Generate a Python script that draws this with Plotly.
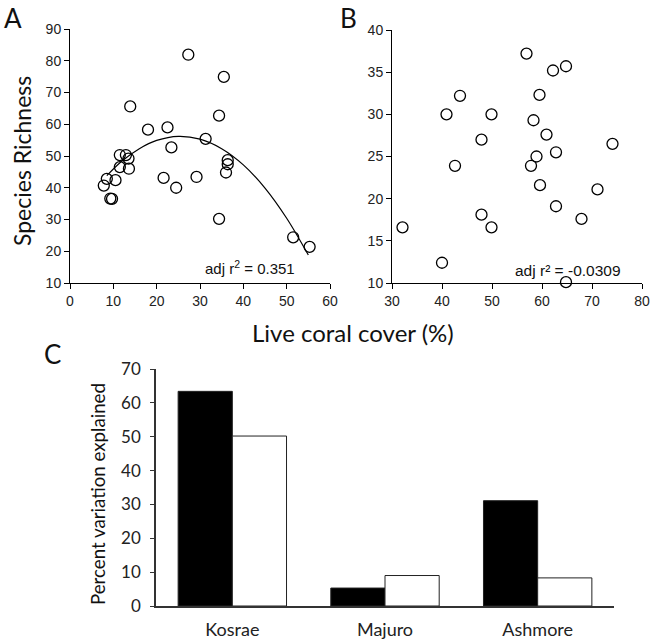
import plotly.graph_objects as go

# Panel A data: live coral cover (%) vs species richness
a_cover = [27.3, 35.5, 13.9, 34.4, 18.0, 22.5, 31.3, 23.4, 11.5, 12.9, 13.5, 11.5, 13.6,
           21.6, 29.2, 24.5, 36.4, 36.4, 36.0, 8.5, 10.5, 7.8, 9.3, 9.7, 34.4, 51.5, 55.3]
a_rich = [81.9, 74.9, 65.6, 62.7, 58.3, 59.0, 55.4, 52.7, 50.3, 50.3, 49.2, 46.5, 46.0,
          43.1, 43.4, 40.0, 48.7, 47.4, 44.8, 42.8, 42.4, 40.7, 36.6, 36.5, 30.2, 24.4, 21.4]
# Quadratic fit curve as drawn
fit_x = [8.5, 12, 16, 20, 25, 30, 35, 40, 45, 50, 55]
fit_y = [43.8, 48.4, 52.3, 54.9, 56.2, 55.3, 52.3, 47.2, 39.9, 30.4, 18.8]

# Panel B data
b_cover = [56.9, 62.2, 64.8, 43.6, 59.5, 40.9, 49.9, 58.3, 60.9, 47.9, 74.1, 62.8, 58.9,
           42.6, 57.8, 59.6, 71.1, 62.8, 47.9, 67.9, 32.1, 49.9, 40.0, 64.8]
b_rich = [37.2, 35.2, 35.7, 32.2, 32.3, 30.0, 30.0, 29.3, 27.6, 27.0, 26.5, 25.5, 25.0,
          23.9, 23.9, 21.6, 21.1, 19.1, 18.1, 17.6, 16.6, 16.6, 12.4, 10.1]

# Panel C data
sites = ["Kosrae", "Majuro", "Ashmore"]
black_vals = [63.4, 5.3, 31.1]
white_vals = [50.2, 9.0, 8.3]

W, H = 650, 644
def fx(px):
    return px / W
def fy(py):
    return 1 - py / H

fig = go.Figure()
marker = dict(symbol="circle-open", size=11, color="black", line=dict(width=1.3, color="black"))
fig.add_trace(go.Scatter(x=a_cover, y=a_rich, mode="markers", marker=marker,
                         xaxis="x", yaxis="y", cliponaxis=False, showlegend=False))
fig.add_trace(go.Scatter(x=fit_x, y=fit_y, mode="lines", line=dict(color="black", width=1.2, shape="spline"),
                         xaxis="x", yaxis="y", showlegend=False))
fig.add_trace(go.Scatter(x=b_cover, y=b_rich, mode="markers", marker=marker,
                         xaxis="x2", yaxis="y2", cliponaxis=False, showlegend=False))
fig.add_trace(go.Bar(x=sites, y=black_vals, marker=dict(color="black", line=dict(color="#222", width=1)),
                     xaxis="x3", yaxis="y3", showlegend=False))
fig.add_trace(go.Bar(x=sites, y=white_vals, marker=dict(color="white", line=dict(color="#222", width=1)),
                     xaxis="x3", yaxis="y3", showlegend=False))

tickfont = dict(family="Liberation Sans", size=14, color="#222")
cfont = dict(family="Lato", size=17, color="#222")
common = dict(showgrid=False, zeroline=False, showline=True, linecolor="black", linewidth=1,
              ticks="outside", ticklen=5, tickcolor="black", tickfont=tickfont)

fig.update_layout(
    width=W, height=H, margin=dict(l=0, r=0, t=0, b=0, autoexpand=False),
    plot_bgcolor="white", paper_bgcolor="white",
    barmode="group", bargap=0.29, bargroupgap=0,
    xaxis=dict(domain=[fx(70), fx(330)], range=[0, 60], dtick=10, anchor="y", **common),
    yaxis=dict(domain=[fy(283), fy(29)], range=[10, 90], dtick=10, anchor="x", **common),
    xaxis2=dict(domain=[fx(392), fx(642)], range=[30, 80], dtick=10, anchor="y2", **common),
    yaxis2=dict(domain=[fy(283), fy(30)], range=[10, 40], dtick=5, anchor="x2", **common),
    xaxis3=dict(domain=[fx(156), fx(614)], range=[-0.5, 2.5], anchor="y3", showgrid=False,
                zeroline=False, showline=True, linecolor="#333", linewidth=1.5, ticks="",
                ticklabelstandoff=7,
                tickfont=dict(family="Lato", size=18, color="#222")),
    yaxis3=dict(domain=[fy(606), fy(369)], range=[0, 70], dtick=10, anchor="x3", showgrid=False,
                zeroline=False, showline=True, linecolor="#333", linewidth=1.5, ticks="outside",
                ticklen=4, tickcolor="#333", ticklabelstandoff=6, tickfont=cfont),
)

ann = []
def add(text, x, y, size, family="Lato", angle=0, xanchor="center", yanchor="middle"):
    ann.append(dict(text=text, x=fx(x), y=fy(y), xref="paper", yref="paper", showarrow=False,
                    xanchor=xanchor, yanchor=yanchor, textangle=angle,
                    font=dict(family=family, size=size, color="#111")))

add("A", 13, 0, 26, yanchor="top")
add("B", 348, 0, 26, yanchor="top")
add("C", 52, 354, 26)
add("Species Richness", 22, 161, 23, angle=-90)
add("Live coral cover (%)", 353, 333, 24)
add("Percent variation explained", 98, 494, 18.7, angle=-90)
add("adj r<sup>2</sup> = 0.351", 250, 267, 15, family="Liberation Sans")
add("adj r² = -0.0309", 568, 270, 15.5, family="Liberation Sans")
fig.update_layout(annotations=ann)

fig.write_html("out.html", config={"displayModeBar": False},
               post_script="document.body.style.margin='0';")
